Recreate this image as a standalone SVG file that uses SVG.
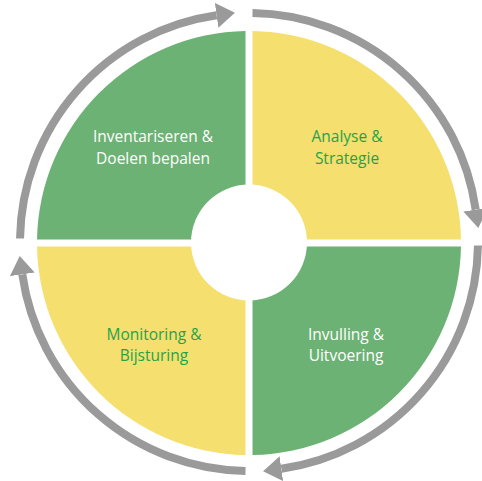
<svg xmlns="http://www.w3.org/2000/svg" width="482" height="481" viewBox="0 0 482 481">
<style>
.g{fill:#6cb274}
.y{fill:#f5df6e}
.arc{fill:none;stroke:#9a9a9a;stroke-width:8;marker-end:url(#ah)}
text{font-family:"Open Sans","Noto Sans",sans-serif;font-size:15.5px;text-anchor:middle}
.w{fill:#ffffff}
.t{fill:#1fa34a}
</style>
<defs>
<marker id="ah" markerUnits="userSpaceOnUse" viewBox="0 -13 19 26" markerWidth="19" markerHeight="26" refX="0" refY="0" orient="auto">
<path d="M0,-12.5 L18.5,0 L0,12.5 Z" fill="#9a9a9a"/>
</marker>
</defs>
<rect width="482" height="481" fill="#ffffff"/>
<g id="connectors">
<path class="arc" d="M20.03,238.5 A229,229 0 0 1 216.62,15.3"/>
<path class="arc" d="M252.5,13.03 A229,229 0 0 1 475.7,209.62"/>
<path class="arc" d="M477.97,245.5 A229,229 0 0 1 281.38,468.7"/>
<path class="arc" d="M245.5,470.97 A229,229 0 0 1 22.3,274.38"/>
</g>
<g id="inventariseren">
<path class="g" d="M245.5,239.5 V31.03 A212,212 0 0 0 37.03,239.5 Z"/>
<text class="w" x="153" y="142">Inventariseren &amp;</text>
<text class="w" x="153" y="164">Doelen bepalen</text>
</g>
<g id="analyse">
<path class="y" d="M252.5,239.5 H460.97 A212,212 0 0 0 252.5,31.03 Z"/>
<text class="t" x="347" y="142">Analyse &amp;</text>
<text class="t" x="347" y="164">Strategie</text>
</g>
<g id="invulling">
<path class="g" d="M252.5,246.5 V454.97 A212,212 0 0 0 460.97,246.5 Z"/>
<text class="w" x="346" y="340">Invulling &amp;</text>
<text class="w" x="346" y="361">Uitvoering</text>
</g>
<g id="monitoring">
<path class="y" d="M245.5,246.5 H37.03 A212,212 0 0 0 245.5,454.97 Z"/>
<text class="t" x="154" y="340">Monitoring &amp;</text>
<text class="t" x="154" y="361">Bijsturing</text>
</g>
<circle id="center" cx="249" cy="242.5" r="58" fill="#ffffff"/>
</svg>
